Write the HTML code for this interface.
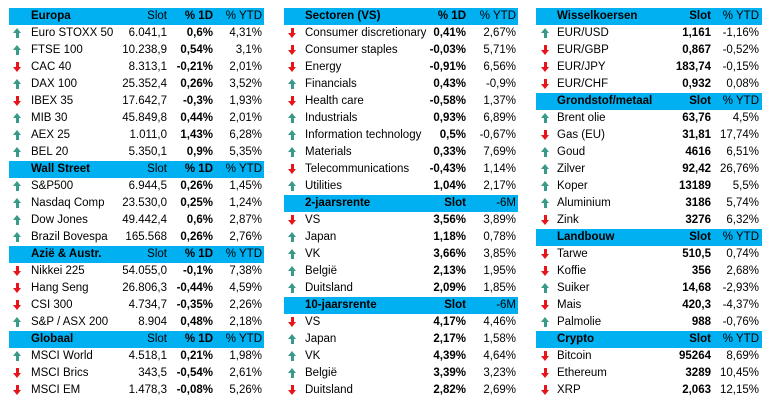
<!DOCTYPE html>
<html><head><meta charset="utf-8"><style>
body{margin:0;width:769px;height:403px;background:#fff;font-family:"Liberation Sans",sans-serif;font-size:11.5px;color:#000;position:relative;overflow:hidden}
.t{position:absolute;top:8px}
.r{position:relative;height:17px;line-height:17px;white-space:nowrap}
.h{background:#00b0f0;font-weight:bold}
.r span{position:absolute}
.n{overflow:hidden}
.nb{font-weight:normal}
i{position:absolute;top:3px;width:9px;height:10px;display:block}
i::before{content:"";position:absolute;left:3px;width:3px;height:6px}
i::after{content:"";position:absolute;left:0;width:0;height:0;border-left:4.5px solid transparent;border-right:4.5px solid transparent}
i.u::before{top:4px;background:#3a9a8a}
i.u::after{top:0;border-bottom:5px solid #3a9a8a}
i.d::before{top:0;background:#e8141a}
i.d::after{top:5px;border-top:5px solid #e8141a}
#A{left:9px;width:255px}
#A i{left:4px}
#A .n{left:22px}
#A .a{right:97px;text-align:right}
#A .b{right:51px;text-align:right;font-weight:bold}
#A .c{right:2px;text-align:right}
#B{left:284px;width:234px}
#B i{left:4px}
#B .n{left:21px;width:128px}
#B .b{right:52px;text-align:right;font-weight:bold}
#B .c{right:2px;text-align:right}
#C{left:536px;width:226px}
#C i{left:5px}
#C .n{left:21px}
#C .a{right:51px;text-align:right;font-weight:bold}
#C .c{right:3px;text-align:right}
</style></head><body>
<div class="t" id="A">
<div class="r h"><span class="n">Europa</span><span class="a nb">Slot</span><span class="b">% 1D</span><span class="c nb">% YTD</span></div>
<div class="r"><i class="u"></i><span class="n">Euro STOXX 50</span><span class="a">6.041,1</span><span class="b">0,6%</span><span class="c">4,31%</span></div>
<div class="r"><i class="u"></i><span class="n">FTSE 100</span><span class="a">10.238,9</span><span class="b">0,54%</span><span class="c">3,1%</span></div>
<div class="r"><i class="d"></i><span class="n">CAC 40</span><span class="a">8.313,1</span><span class="b">-0,21%</span><span class="c">2,01%</span></div>
<div class="r"><i class="u"></i><span class="n">DAX 100</span><span class="a">25.352,4</span><span class="b">0,26%</span><span class="c">3,52%</span></div>
<div class="r"><i class="d"></i><span class="n">IBEX 35</span><span class="a">17.642,7</span><span class="b">-0,3%</span><span class="c">1,93%</span></div>
<div class="r"><i class="u"></i><span class="n">MIB 30</span><span class="a">45.849,8</span><span class="b">0,44%</span><span class="c">2,01%</span></div>
<div class="r"><i class="u"></i><span class="n">AEX 25</span><span class="a">1.011,0</span><span class="b">1,43%</span><span class="c">6,28%</span></div>
<div class="r"><i class="u"></i><span class="n">BEL 20</span><span class="a">5.350,1</span><span class="b">0,9%</span><span class="c">5,35%</span></div>
<div class="r h"><span class="n">Wall Street</span><span class="a nb">Slot</span><span class="b">% 1D</span><span class="c nb">% YTD</span></div>
<div class="r"><i class="u"></i><span class="n">S&amp;P500</span><span class="a">6.944,5</span><span class="b">0,26%</span><span class="c">1,45%</span></div>
<div class="r"><i class="u"></i><span class="n">Nasdaq Comp</span><span class="a">23.530,0</span><span class="b">0,25%</span><span class="c">1,24%</span></div>
<div class="r"><i class="u"></i><span class="n">Dow Jones</span><span class="a">49.442,4</span><span class="b">0,6%</span><span class="c">2,87%</span></div>
<div class="r"><i class="u"></i><span class="n">Brazil Bovespa</span><span class="a">165.568</span><span class="b">0,26%</span><span class="c">2,76%</span></div>
<div class="r h"><span class="n">Azië &amp; Austr.</span><span class="a nb">Slot</span><span class="b">% 1D</span><span class="c nb">% YTD</span></div>
<div class="r"><i class="d"></i><span class="n">Nikkei 225</span><span class="a">54.055,0</span><span class="b">-0,1%</span><span class="c">7,38%</span></div>
<div class="r"><i class="d"></i><span class="n">Hang Seng</span><span class="a">26.806,3</span><span class="b">-0,44%</span><span class="c">4,59%</span></div>
<div class="r"><i class="d"></i><span class="n">CSI 300</span><span class="a">4.734,7</span><span class="b">-0,35%</span><span class="c">2,26%</span></div>
<div class="r"><i class="u"></i><span class="n">S&amp;P / ASX 200</span><span class="a">8.904</span><span class="b">0,48%</span><span class="c">2,18%</span></div>
<div class="r h"><span class="n">Globaal</span><span class="a nb">Slot</span><span class="b">% 1D</span><span class="c nb">% YTD</span></div>
<div class="r"><i class="u"></i><span class="n">MSCI World</span><span class="a">4.518,1</span><span class="b">0,21%</span><span class="c">1,98%</span></div>
<div class="r"><i class="d"></i><span class="n">MSCI Brics</span><span class="a">343,5</span><span class="b">-0,54%</span><span class="c">2,61%</span></div>
<div class="r"><i class="d"></i><span class="n">MSCI EM</span><span class="a">1.478,3</span><span class="b">-0,08%</span><span class="c">5,26%</span></div>
</div>

<div class="t" id="B">
<div class="r h"><span class="n">Sectoren (VS)</span><span class="b">% 1D</span><span class="c nb">% YTD</span></div>
<div class="r"><i class="d"></i><span class="n">Consumer discretionary</span><span class="b">0,41%</span><span class="c">2,67%</span></div>
<div class="r"><i class="d"></i><span class="n">Consumer staples</span><span class="b">-0,03%</span><span class="c">5,71%</span></div>
<div class="r"><i class="d"></i><span class="n">Energy</span><span class="b">-0,91%</span><span class="c">6,56%</span></div>
<div class="r"><i class="u"></i><span class="n">Financials</span><span class="b">0,43%</span><span class="c">-0,9%</span></div>
<div class="r"><i class="d"></i><span class="n">Health care</span><span class="b">-0,58%</span><span class="c">1,37%</span></div>
<div class="r"><i class="u"></i><span class="n">Industrials</span><span class="b">0,93%</span><span class="c">6,89%</span></div>
<div class="r"><i class="u"></i><span class="n">Information technology</span><span class="b">0,5%</span><span class="c">-0,67%</span></div>
<div class="r"><i class="u"></i><span class="n">Materials</span><span class="b">0,33%</span><span class="c">7,69%</span></div>
<div class="r"><i class="d"></i><span class="n">Telecommunications</span><span class="b">-0,43%</span><span class="c">1,14%</span></div>
<div class="r"><i class="u"></i><span class="n">Utilities</span><span class="b">1,04%</span><span class="c">2,17%</span></div>
<div class="r h"><span class="n">2-jaarsrente</span><span class="b">Slot</span><span class="c nb">-6M</span></div>
<div class="r"><i class="d"></i><span class="n">VS</span><span class="b">3,56%</span><span class="c">3,89%</span></div>
<div class="r"><i class="u"></i><span class="n">Japan</span><span class="b">1,18%</span><span class="c">0,78%</span></div>
<div class="r"><i class="u"></i><span class="n">VK</span><span class="b">3,66%</span><span class="c">3,85%</span></div>
<div class="r"><i class="u"></i><span class="n">België</span><span class="b">2,13%</span><span class="c">1,95%</span></div>
<div class="r"><i class="u"></i><span class="n">Duitsland</span><span class="b">2,09%</span><span class="c">1,85%</span></div>
<div class="r h"><span class="n">10-jaarsrente</span><span class="b">Slot</span><span class="c nb">-6M</span></div>
<div class="r"><i class="d"></i><span class="n">VS</span><span class="b">4,17%</span><span class="c">4,46%</span></div>
<div class="r"><i class="u"></i><span class="n">Japan</span><span class="b">2,17%</span><span class="c">1,58%</span></div>
<div class="r"><i class="u"></i><span class="n">VK</span><span class="b">4,39%</span><span class="c">4,64%</span></div>
<div class="r"><i class="u"></i><span class="n">België</span><span class="b">3,39%</span><span class="c">3,23%</span></div>
<div class="r"><i class="d"></i><span class="n">Duitsland</span><span class="b">2,82%</span><span class="c">2,69%</span></div>
</div>

<div class="t" id="C">
<div class="r h"><span class="n">Wisselkoersen</span><span class="a">Slot</span><span class="c nb">% YTD</span></div>
<div class="r"><i class="u"></i><span class="n">EUR/USD</span><span class="a">1,161</span><span class="c">-1,16%</span></div>
<div class="r"><i class="d"></i><span class="n">EUR/GBP</span><span class="a">0,867</span><span class="c">-0,52%</span></div>
<div class="r"><i class="d"></i><span class="n">EUR/JPY</span><span class="a">183,74</span><span class="c">-0,15%</span></div>
<div class="r"><i class="d"></i><span class="n">EUR/CHF</span><span class="a">0,932</span><span class="c">0,08%</span></div>
<div class="r h"><span class="n">Grondstof/metaal</span><span class="a">Slot</span><span class="c nb">% YTD</span></div>
<div class="r"><i class="u"></i><span class="n">Brent olie</span><span class="a">63,76</span><span class="c">4,5%</span></div>
<div class="r"><i class="d"></i><span class="n">Gas (EU)</span><span class="a">31,81</span><span class="c">17,74%</span></div>
<div class="r"><i class="u"></i><span class="n">Goud</span><span class="a">4616</span><span class="c">6,51%</span></div>
<div class="r"><i class="u"></i><span class="n">Zilver</span><span class="a">92,42</span><span class="c">26,76%</span></div>
<div class="r"><i class="u"></i><span class="n">Koper</span><span class="a">13189</span><span class="c">5,5%</span></div>
<div class="r"><i class="u"></i><span class="n">Aluminium</span><span class="a">3186</span><span class="c">5,74%</span></div>
<div class="r"><i class="d"></i><span class="n">Zink</span><span class="a">3276</span><span class="c">6,32%</span></div>
<div class="r h"><span class="n">Landbouw</span><span class="a">Slot</span><span class="c nb">% YTD</span></div>
<div class="r"><i class="d"></i><span class="n">Tarwe</span><span class="a">510,5</span><span class="c">0,74%</span></div>
<div class="r"><i class="d"></i><span class="n">Koffie</span><span class="a">356</span><span class="c">2,68%</span></div>
<div class="r"><i class="u"></i><span class="n">Suiker</span><span class="a">14,68</span><span class="c">-2,93%</span></div>
<div class="r"><i class="d"></i><span class="n">Mais</span><span class="a">420,3</span><span class="c">-4,37%</span></div>
<div class="r"><i class="u"></i><span class="n">Palmolie</span><span class="a">988</span><span class="c">-0,76%</span></div>
<div class="r h"><span class="n">Crypto</span><span class="a">Slot</span><span class="c nb">% YTD</span></div>
<div class="r"><i class="d"></i><span class="n">Bitcoin</span><span class="a">95264</span><span class="c">8,69%</span></div>
<div class="r"><i class="d"></i><span class="n">Ethereum</span><span class="a">3289</span><span class="c">10,45%</span></div>
<div class="r"><i class="d"></i><span class="n">XRP</span><span class="a">2,063</span><span class="c">12,15%</span></div>
</div>
</body></html>
